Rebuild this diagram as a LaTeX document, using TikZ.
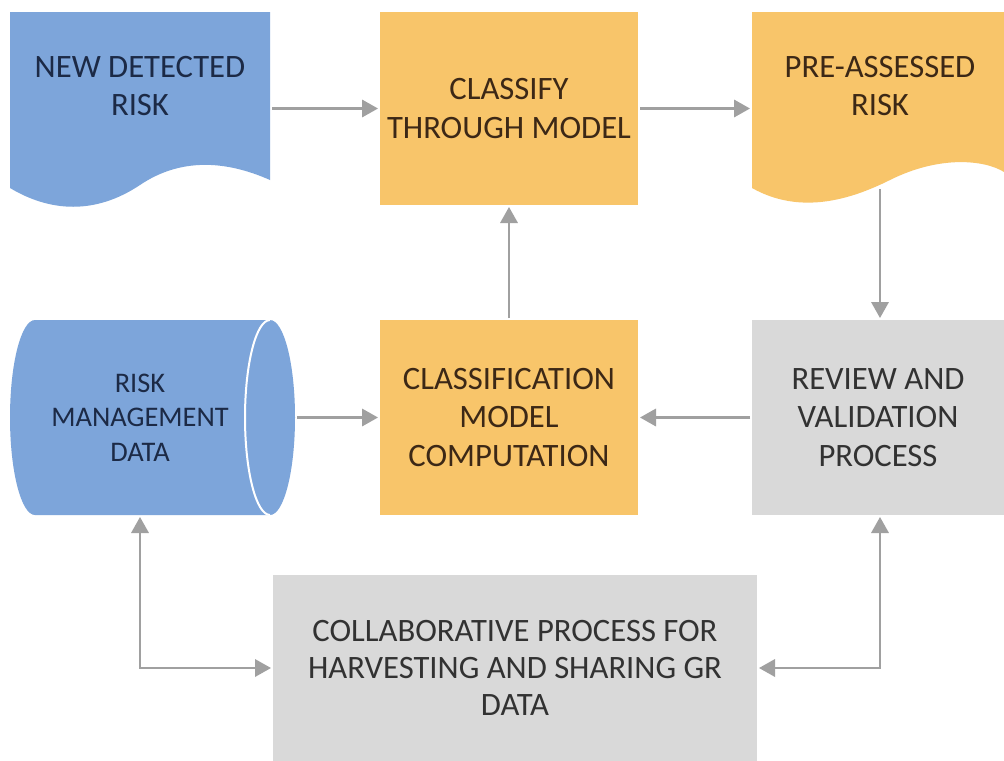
\documentclass[tikz,border=0pt]{standalone}
\usepackage{fontspec}
\setmainfont{Carlito}
\usetikzlibrary{arrows.meta}
\definecolor{bfill}{RGB}{125,165,218}
\definecolor{ofill}{RGB}{248,197,106}
\definecolor{gfill}{RGB}{217,217,217}
\definecolor{arr}{RGB}{160,160,160}
\definecolor{btext}{RGB}{28,42,70}
\definecolor{otext}{RGB}{60,40,22}
\definecolor{gtext}{RGB}{50,50,50}
\begin{document}
\begin{tikzpicture}[x=0.75pt,y=-0.75pt,
  lbl/.style={align=center,font=\fontsize{24.5}{29}\selectfont,inner sep=0pt,outer sep=0pt},
  obox/.style={lbl,fill=ofill,text=otext},
  gbox/.style={lbl,fill=gfill,text=gtext},
  tip/.style={},
  flow/.style={draw=arr,line width=1.8pt,shorten >=1.5pt,shorten <=1.5pt,-{Triangle[length=12pt,width=13pt]}},
  flowtwo/.style={draw=arr,line width=1.8pt,shorten >=1.5pt,shorten <=1.5pt,{Triangle[length=12pt,width=13pt]}-{Triangle[length=12pt,width=13pt]}}]
\useasboundingbox[fill=white] (0,0) rectangle (1004,761);

% document shape 1
\fill[bfill] (10,12) -- (270,12) -- (270,180)
  .. controls (225,160) and (180,158) .. (140,185)
  .. controls (95,215) and (50,212) .. (10,188) -- cycle;
% document shape 2
\fill[ofill] (752,12) -- (1004,12) -- (1004,172)
  .. controls (985,160) and (940,155) .. (890,180)
  .. controls (850,200) and (800,215) .. (752,188) -- cycle;
% cylinder
\fill[bfill] (35,320) -- (270,320)
  .. controls (283.8,320) and (295,363.6) .. (295,417.5)
  .. controls (295,471.4) and (283.8,515) .. (270,515)
  -- (35,515)
  .. controls (21.2,515) and (10,471.4) .. (10,417.5)
  .. controls (10,363.6) and (21.2,320) .. (35,320) -- cycle;
\draw[white,line width=1.5pt] (270,320)
  .. controls (256.2,320) and (245,363.6) .. (245,417.5)
  .. controls (245,471.4) and (256.2,515) .. (270,515);

% labels of drawn shapes
\node[lbl,text=btext] (d1) at (140,86) {NEW DETECTED\\RISK};
\node[lbl,text=otext] (d2) at (880,86) {PRE-ASSESSED\\RISK};
\node[lbl,text=btext,font=\fontsize{21.3}{26}\selectfont] (db) at (140,417.5) {RISK\\MANAGEMENT\\DATA};

% boxes
\node[obox,minimum width=193.5pt,minimum height=144.75pt] (c1) at (509,108.5) {CLASSIFY\\THROUGH MODEL};
\node[obox,minimum width=193.5pt,minimum height=146.25pt] (c2) at (509,417.5) {CLASSIFICATION\\MODEL\\COMPUTATION};
\node[gbox,minimum width=189pt,minimum height=146.25pt] (rv) at (878,417.5) {REVIEW AND\\VALIDATION\\PROCESS};
\node[gbox,minimum width=363pt,minimum height=139.5pt,font=\fontsize{24.5}{28}\selectfont] (co) at (515,668) {COLLABORATIVE PROCESS FOR\\HARVESTING AND SHARING GR\\DATA};

% connection points on drawn shapes
\coordinate (d1e) at (270,108.5);
\coordinate (d2w) at (752,108.5);
\coordinate (d2s) at (880,187);
\coordinate (dbe) at (295,417.5);
\coordinate (dbs) at (140,515);

% connectors
\draw[flow] (d1e) -- (c1.west);
\draw[flow] (c1.east) -- (d2w);
\draw[flow] (d2s) -- (d2s |- rv.north);
\draw[flow] (c2.north) -- (c1.south);
\draw[flow] (dbe) -- (c2.west);
\draw[flow] (rv.west) -- (c2.east);
\draw[flowtwo] (dbs) |- (co.west);
\draw[flowtwo] (d2s |- rv.south) |- (co.east);
\end{tikzpicture}
\end{document}
